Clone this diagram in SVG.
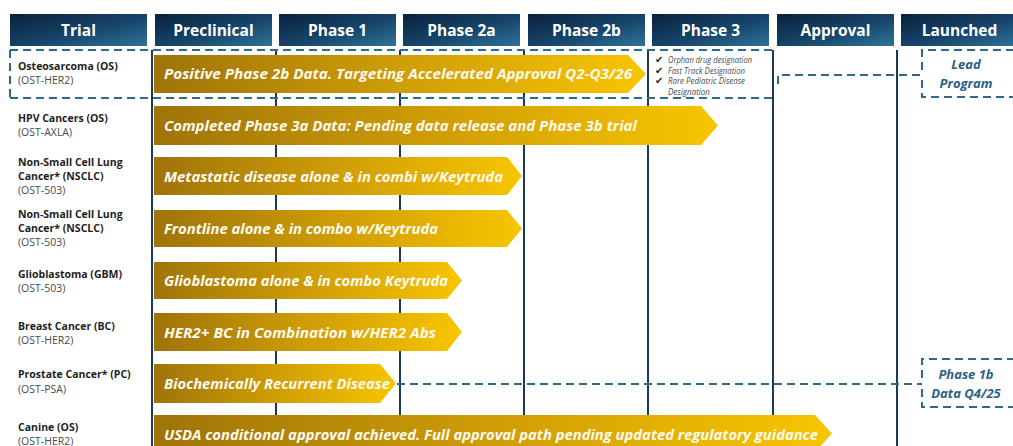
<svg xmlns="http://www.w3.org/2000/svg" width="1013" height="446" viewBox="0 0 1013 446">
  <defs>
    <linearGradient id="hdr" x1="0" y1="0" x2="1" y2="1">
      <stop offset="0" stop-color="#0a213c"/>
      <stop offset="0.55" stop-color="#17456b"/>
      <stop offset="1" stop-color="#2f7399"/>
    </linearGradient>
    <linearGradient id="gold" x1="0" y1="0" x2="1" y2="0">
      <stop offset="0" stop-color="#9f7409"/>
      <stop offset="0.5" stop-color="#cf9d06"/>
      <stop offset="1" stop-color="#f8c500"/>
    </linearGradient>
    <style>
      .hbox { fill: url(#hdr); }
      .htxt { font-family: "Open Sans", "Liberation Sans", sans-serif; font-weight: 700; font-size: 15.5px; fill: #ffffff; text-anchor: middle; }
      .col { stroke: #1b3a57; stroke-width: 2; fill: none; }
      .bar { fill: url(#gold); }
      .btxt { font-family: "Open Sans", "Liberation Sans", sans-serif; font-weight: 700; font-style: italic; font-size: 14.5px; fill: #fffaf0; }
      .lbl { font-family: "Open Sans", "Liberation Sans", sans-serif; font-weight: 700; font-size: 10.5px; fill: #1e1e1e; }
      .sub { font-family: "Open Sans", "Liberation Sans", sans-serif; font-size: 10.5px; fill: #4a4a4a; }
      .dash { stroke: #2e6a90; stroke-width: 2; fill: none; stroke-dasharray: 8 5; }
      .note { font-family: "Open Sans", "Liberation Sans", sans-serif; font-style: italic; font-size: 8.5px; fill: #4a4a4a; }
      .chk { font-family: "DejaVu Sans", sans-serif; font-weight: 700; font-size: 10px; fill: #1e1e1e; }
      .btag { font-family: "Open Sans", "Liberation Sans", sans-serif; font-weight: 700; font-style: italic; font-size: 13px; fill: #2b5f86; text-anchor: middle; }
    </style>
  </defs>

  <rect width="1013" height="446" fill="#ffffff"/>

  <!-- column headers -->
  <g id="headers">
    <rect class="hbox" x="10" y="14" width="137" height="32"/>
    <text class="htxt" x="78.5" y="35.5">Trial</text>
    <rect class="hbox" x="155" y="14" width="117" height="32"/>
    <text class="htxt" x="213.5" y="35.5">Preclinical</text>
    <rect class="hbox" x="279" y="14" width="117" height="32"/>
    <text class="htxt" x="337.5" y="35.5">Phase 1</text>
    <rect class="hbox" x="403" y="14" width="117" height="32"/>
    <text class="htxt" x="461.5" y="35.5">Phase 2a</text>
    <rect class="hbox" x="528" y="14" width="117" height="32"/>
    <text class="htxt" x="586.5" y="35.5">Phase 2b</text>
    <rect class="hbox" x="652" y="14" width="117" height="32"/>
    <text class="htxt" x="710.5" y="35.5">Phase 3</text>
    <rect class="hbox" x="777" y="14" width="117" height="32"/>
    <text class="htxt" x="835.5" y="35.5">Approval</text>
    <rect class="hbox" x="901" y="14" width="117" height="32"/>
    <text class="htxt" x="959.5" y="35.5">Launched</text>
  </g>

  <!-- column dividers -->
  <g id="dividers">
    <line class="col" x1="152" y1="50" x2="152" y2="446"/>
    <line class="col" x1="276" y1="50" x2="276" y2="446"/>
    <line class="col" x1="400" y1="50" x2="400" y2="446"/>
    <line class="col" x1="524" y1="50" x2="524" y2="446"/>
    <line class="col" x1="648" y1="50" x2="648" y2="446"/>
    <line class="col" x1="773" y1="50" x2="773" y2="446"/>
    <line class="col" x1="897" y1="50" x2="897" y2="446"/>
  </g>

  <!-- lead program frame -->
  <g id="lead-frame">
    <path class="dash" d="M10 50 H773 M10 98 H773 M10 50 V98"/>
  </g>

  <!-- trial labels -->
  <g id="labels">
    <text class="lbl" x="18" y="70">Osteosarcoma (OS)</text>
    <text class="sub" x="18" y="84">(OST-HER2)</text>
    <text class="lbl" x="18" y="122">HPV Cancers (OS)</text>
    <text class="sub" x="18" y="136">(OST-AXLA)</text>
    <text class="lbl" x="18" y="166">Non-Small Cell Lung</text>
    <text class="lbl" x="18" y="180">Cancer* (NSCLC)</text>
    <text class="sub" x="18" y="194">(OST-503)</text>
    <text class="lbl" x="18" y="218">Non-Small Cell Lung</text>
    <text class="lbl" x="18" y="232">Cancer* (NSCLC)</text>
    <text class="sub" x="18" y="246">(OST-503)</text>
    <text class="lbl" x="18" y="278">Glioblastoma (GBM)</text>
    <text class="sub" x="18" y="292">(OST-503)</text>
    <text class="lbl" x="18" y="330">Breast Cancer (BC)</text>
    <text class="sub" x="18" y="344">(OST-HER2)</text>
    <text class="lbl" x="18" y="378">Prostate Cancer* (PC)</text>
    <text class="sub" x="18" y="393">(OST-PSA)</text>
    <text class="lbl" x="18" y="431">Canine (OS)</text>
    <text class="sub" x="18" y="445">(OST-HER2)</text>
  </g>

  <!-- progress bars -->
  <g id="bar-os">
    <path class="bar" d="M154 55 H628 L646 74 L628 93 H154 Z"/>
    <text class="btxt" x="164" y="79" textLength="468" lengthAdjust="spacingAndGlyphs">Positive Phase 2b Data. Targeting Accelerated Approval Q2-Q3/26</text>
  </g>
  <g id="bar-hpv">
    <path class="bar" d="M154 106 H701 L718 125.5 L701 145 H154 Z"/>
    <text class="btxt" x="164" y="131" textLength="473" lengthAdjust="spacingAndGlyphs">Completed Phase 3a Data:  Pending data release and Phase 3b trial</text>
  </g>
  <g id="bar-nsclc-met">
    <path class="bar" d="M154 157 H507 L522 176 L507 195 H154 Z"/>
    <text class="btxt" x="164" y="181.5" textLength="339" lengthAdjust="spacingAndGlyphs">Metastatic disease alone &amp; in combi w/Keytruda</text>
  </g>
  <g id="bar-nsclc-front">
    <path class="bar" d="M154 210 H507 L522 228.5 L507 247 H154 Z"/>
    <text class="btxt" x="164" y="234" textLength="274" lengthAdjust="spacingAndGlyphs">Frontline alone &amp; in combo w/Keytruda</text>
  </g>
  <g id="bar-gbm">
    <path class="bar" d="M154 262 H447 L462 280.5 L447 299 H154 Z"/>
    <text class="btxt" x="164" y="286" textLength="284" lengthAdjust="spacingAndGlyphs">Glioblastoma alone &amp; in combo Keytruda</text>
  </g>
  <g id="bar-bc">
    <path class="bar" d="M154 313 H447 L462 332 L447 351 H154 Z"/>
    <text class="btxt" x="164" y="337.5" textLength="272" lengthAdjust="spacingAndGlyphs">HER2+ BC in Combination w/HER2 Abs</text>
  </g>
  <g id="bar-pc">
    <path class="bar" d="M154 364 H380 L396 383.5 L380 403 H154 Z"/>
    <text class="btxt" x="164" y="389" textLength="226" lengthAdjust="spacingAndGlyphs">Biochemically Recurrent Disease</text>
  </g>
  <g id="bar-canine">
    <path class="bar" d="M154 415 H815 L832 433.5 L815 452 H154 Z"/>
    <text class="btxt" x="164" y="440" textLength="654" lengthAdjust="spacingAndGlyphs">USDA conditional approval achieved. Full approval path pending updated regulatory guidance</text>
  </g>

  <!-- designations -->
  <g id="designations">
    <text class="chk" x="655" y="63">✔</text>
    <text class="note" x="668" y="63" textLength="84" lengthAdjust="spacingAndGlyphs">Orphan drug designation</text>
    <text class="chk" x="655" y="73.5">✔</text>
    <text class="note" x="668" y="73.5" textLength="77" lengthAdjust="spacingAndGlyphs">Fast Track Designation</text>
    <text class="chk" x="655" y="84">✔</text>
    <text class="note" x="668" y="84" textLength="77" lengthAdjust="spacingAndGlyphs">Rare Pediatric Disease</text>
    <text class="note" x="668" y="94.5" textLength="42" lengthAdjust="spacingAndGlyphs">Designation</text>
  </g>

  <!-- connectors -->
  <g id="connectors">
    <path class="dash" d="M778 84 V75 H922"/>
    <path class="dash" d="M397 384 H922"/>
  </g>

  <!-- status tags -->
  <g id="tag-lead">
    <path class="dash" d="M922 80 V97 H1013 M922 70 V50 H1013"/>
    <text class="btag" x="966" y="69">Lead</text>
    <text class="btag" x="966" y="88">Program</text>
  </g>
  <g id="tag-phase1b">
    <path class="dash" d="M922 389 V407 H1013 M922 378 V359 H1013"/>
    <text class="btag" x="966" y="379">Phase 1b</text>
    <text class="btag" x="966" y="398">Data Q4/25</text>
  </g>
</svg>
